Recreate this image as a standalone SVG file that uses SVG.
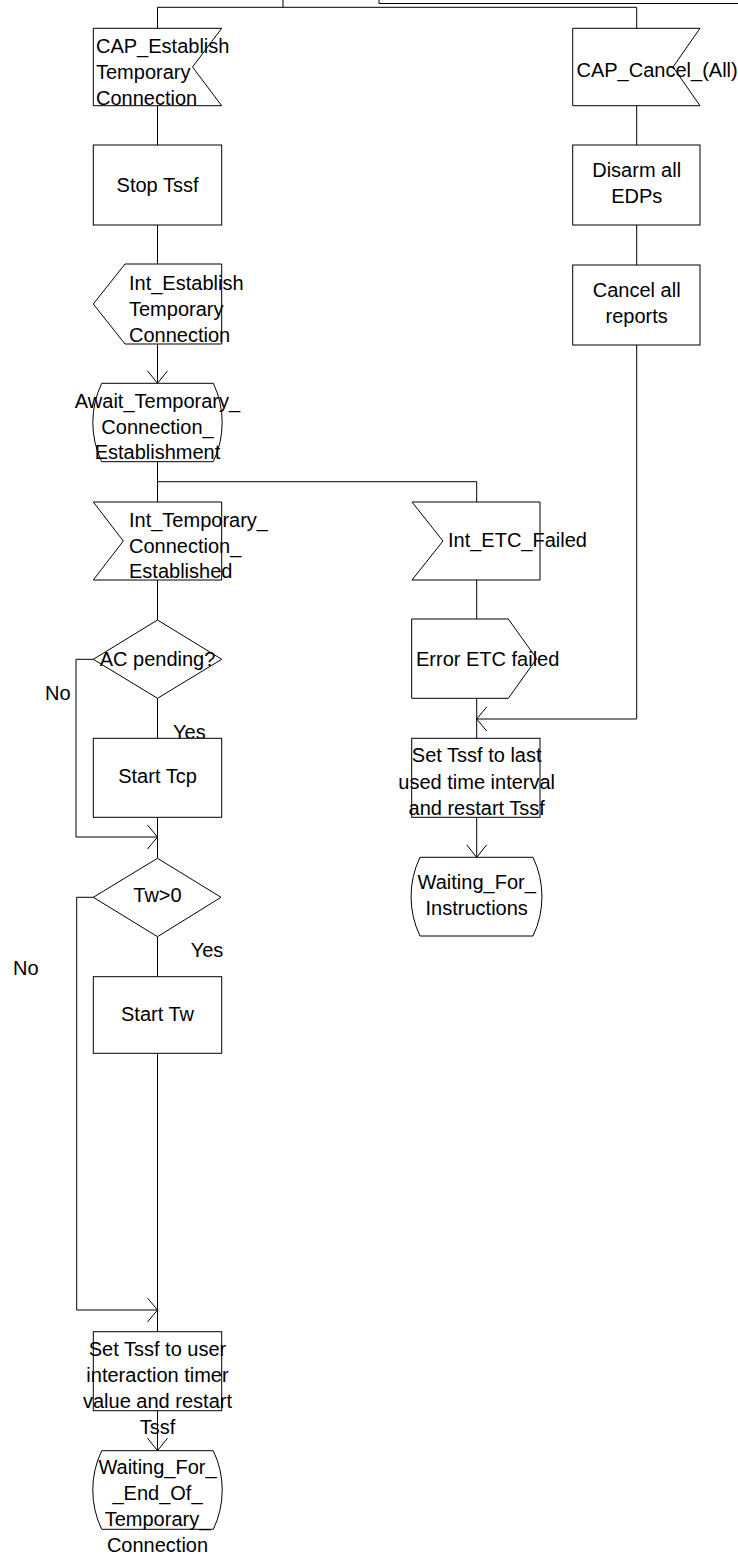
<svg xmlns="http://www.w3.org/2000/svg" width="738" height="1557" viewBox="0 0 738 1557">
<style>
.s{fill:#fff;stroke:#000;stroke-width:1}
.c{fill:none;stroke:#000;stroke-width:1}
text{font-family:"Liberation Sans",Arial,sans-serif;font-size:20px;fill:#000}
.m{text-anchor:middle}
</style>
<defs>
<marker id="aV" markerUnits="userSpaceOnUse" orient="auto" markerWidth="30" markerHeight="30" viewBox="-15 -15 30 30" refX="0" refY="0" overflow="visible"><path d="M-12.5 -10 L0 0 L-12.5 10" fill="none" stroke="#000" stroke-width="1"/></marker>
<marker id="aH" markerUnits="userSpaceOnUse" orient="auto" markerWidth="30" markerHeight="30" viewBox="-15 -15 30 30" refX="0" refY="0" overflow="visible"><path d="M-10 -12 L0 0 L-10 12" fill="none" stroke="#000" stroke-width="1"/></marker>
</defs>
<g id="connectors">
<path class="c" d="M283 0 V7.3 M157.5 7.3 H636.7 M157.5 7.3 V28.3 M636.7 7.3 V28.3"/>
<path class="c" d="M379 0 V3.5 H738" stroke-width="2"/>
<path class="c" d="M157.5 105.7 V145"/>
<path class="c" d="M157.5 225 V264"/>
<path class="c" d="M157.5 344 V383.3" marker-end="url(#aV)"/>
<path class="c" d="M157.5 461.7 V502 M157.5 481.7 H476.7 V502"/>
<path class="c" d="M157.5 580 V620"/>
<path class="c" d="M157.5 698.3 V738.3"/>
<path class="c" d="M93.3 659.3 H76 V837 H157.5" marker-end="url(#aH)"/>
<path class="c" d="M157.5 817.3 V858.3"/>
<path class="c" d="M157.5 936.7 V976.7"/>
<path class="c" d="M93.3 897.3 H76.7 V1310 H157.5" marker-end="url(#aH)"/>
<path class="c" d="M157.5 1053.3 V1331.7"/>
<path class="c" d="M157.5 1410.7 V1450.7" marker-end="url(#aV)"/>
<path class="c" d="M476.7 580 V619"/>
<path class="c" d="M476.7 698.3 V738.3"/>
<path class="c" d="M636.7 105.7 V145"/>
<path class="c" d="M636.7 225 V265"/>
<path class="c" d="M636.7 345 V719 H476.7" marker-end="url(#aH)"/>
<path class="c" d="M476.7 817.3 V857.3" marker-end="url(#aV)"/>
</g>
<g id="cap_establish">
<path class="s" d="M93.3 28.3 H221.7 L192.5 67 L221.7 105.7 H93.3 Z"/>
<text x="96" y="53">CAP_Establish</text>
<text x="96" y="79">Temporary</text>
<text x="96" y="105">Connection</text>
</g>
<g id="stop_tssf">
<rect class="s" x="93.3" y="145" width="128.4" height="80"/>
<text class="m" x="157.5" y="192">Stop Tssf</text>
</g>
<g id="int_establish">
<path class="s" d="M125 264 H221.7 V344 H125 L93.3 304 Z"/>
<text x="129" y="290">Int_Establish</text>
<text x="129" y="316">Temporary</text>
<text x="129" y="342">Connection</text>
</g>
<g id="await_state">
<path class="s" d="M101.7 383.3 H213.3 A91 91 0 0 1 213.3 461.7 H101.7 A91 91 0 0 1 101.7 383.3 Z"/>
<text class="m" x="157.5" y="408">Await_Temporary_</text>
<text class="m" x="157.5" y="434">Connection_</text>
<text class="m" x="157.5" y="459">Establishment</text>
</g>
<g id="int_temporary">
<path class="s" d="M93.3 502 H221.7 V580 H93.3 L123.3 541 Z"/>
<text x="129" y="527">Int_Temporary_</text>
<text x="129" y="553">Connection_</text>
<text x="129" y="578">Established</text>
</g>
<g id="ac_pending">
<path class="s" d="M157.5 620 L221.7 659.3 L157.5 698.3 L93.3 659.3 Z"/>
<text class="m" x="157.5" y="666">AC pending?</text>
<text x="45" y="700">No</text>
<text x="173" y="739">Yes</text>
</g>
<g id="start_tcp">
<rect class="s" x="93.3" y="738.3" width="128.4" height="79"/>
<text class="m" x="157.5" y="783">Start Tcp</text>
</g>
<g id="tw_gt0">
<path class="s" d="M157.5 858.3 L221 897.3 L157.5 936.7 L93.3 897.3 Z"/>
<text class="m" x="157.5" y="902">Tw&gt;0</text>
<text x="190.7" y="957">Yes</text>
<text x="13" y="975">No</text>
</g>
<g id="start_tw">
<rect class="s" x="93.3" y="976.7" width="128.4" height="76.6"/>
<text class="m" x="157.5" y="1021">Start Tw</text>
</g>
<g id="set_tssf_user">
<rect class="s" x="93.3" y="1331.7" width="128.4" height="79"/>
<text class="m" x="157.5" y="1356">Set Tssf to user</text>
<text class="m" x="157.5" y="1382">interaction timer</text>
<text class="m" x="157.5" y="1408">value and restart</text>
<text class="m" x="157.5" y="1434">Tssf</text>
</g>
<g id="waiting_end">
<path class="s" d="M101.7 1450.7 H213.3 A91 91 0 0 1 213.3 1529.3 H101.7 A91 91 0 0 1 101.7 1450.7 Z"/>
<text class="m" x="157.5" y="1474">Waiting_For_</text>
<text class="m" x="157.5" y="1500">_End_Of_</text>
<text class="m" x="157.5" y="1526">Temporary_</text>
<text class="m" x="157.5" y="1552">Connection</text>
</g>
<g id="int_etc_failed">
<path class="s" d="M412 502 H540 V580 H412 L443 541 Z"/>
<text x="448" y="547">Int_ETC_Failed</text>
</g>
<g id="error_etc">
<path class="s" d="M411.7 619 H508.3 L536.7 658.7 L508.3 698.3 H411.7 Z"/>
<text x="416" y="666">Error ETC failed</text>
</g>
<g id="set_tssf_last">
<rect class="s" x="411.7" y="738.3" width="128.3" height="79"/>
<text class="m" x="476.7" y="762">Set Tssf to last</text>
<text class="m" x="476.7" y="789">used time interval</text>
<text class="m" x="476.7" y="815">and restart Tssf</text>
</g>
<g id="waiting_instr">
<path class="s" d="M420 857.3 H533 A91 91 0 0 1 533 936 H420 A91 91 0 0 1 420 857.3 Z"/>
<text class="m" x="476.7" y="889">Waiting_For_</text>
<text class="m" x="476.7" y="915">Instructions</text>
</g>
<g id="cap_cancel">
<path class="s" d="M572.7 28.3 H700 L673 67 L700 105.7 H572.7 Z"/>
<text x="576.5" y="77">CAP_Cancel_(All)</text>
</g>
<g id="disarm">
<rect class="s" x="572.7" y="145" width="127.3" height="80"/>
<text class="m" x="636.7" y="177">Disarm all</text>
<text class="m" x="636.7" y="203">EDPs</text>
</g>
<g id="cancel_reports">
<rect class="s" x="572.7" y="265" width="127.3" height="80"/>
<text class="m" x="636.7" y="297">Cancel all</text>
<text class="m" x="636.7" y="323">reports</text>
</g>
</svg>
